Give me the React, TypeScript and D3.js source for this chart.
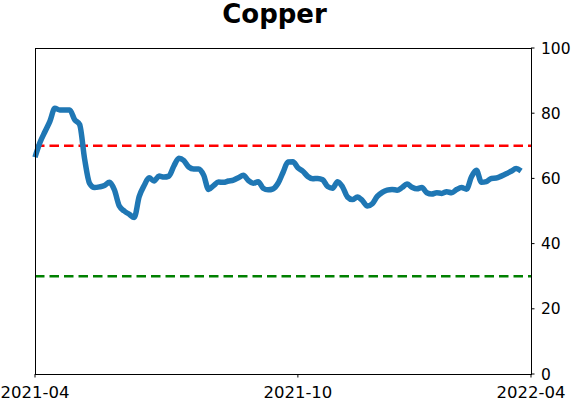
import React from "react";
import * as d3 from "d3";

const title = "Copper";
const values: number[] = [
  66.5, 71, 74.3, 77.5, 81.5, 81, 81, 81, 78, 76.5,
  66, 58.5, 57.2, 57.4, 57.8, 58.8, 56.5, 51.5, 50, 49,
  48, 54.4, 57.8, 60.2, 59.2, 60.7, 60.4, 60.7, 63.8, 66.2,
  65.5, 63.5, 62.9, 62.9, 61, 56.6, 57.8, 58.9, 58.8, 59.2,
  59.5, 60.2, 61, 59.4, 58.5, 59, 57, 56.5, 56.8, 58.5,
  61.8, 65, 65.1, 63.3, 62.2, 60.6, 59.9, 60, 59.6, 57.5,
  57, 59, 57.4, 54.3, 53.5, 54.3, 53.2, 51.5, 52.2, 54.5,
  55.7, 56.4, 56.6, 56.4, 57.2, 58.3, 57.3, 56.8, 57.2, 55.6,
  55.2, 55.6, 55.4, 55.9, 55.6, 56.6, 57.2, 56.7, 60.5, 62.5,
  58.8, 59, 60, 60.1, 60.7, 61.4, 62.2, 63, 62.3,
];
const xTickIndex = [0, 53, 100];
const xTickLabels = ["2021-04", "2021-10", "2022-04"];
const yTicks = [0, 20, 40, 60, 80, 100];
const upperLevel = 70;
const lowerLevel = 30;

const W = 571;
const H = 402;
const left = 35;
const right = 531;
const top = 48;
const bottom = 374;
const font = "'DejaVu Sans', sans-serif";

export default function App() {
  const x = d3.scaleLinear().domain([0, 100]).range([left, right]);
  const y = d3.scaleLinear().domain([0, 100]).range([bottom, top]);
  const line = d3
    .line<number>()
    .x((_, i) => x(i))
    .y((d) => y(d))
    .curve(d3.curveMonotoneX);

  return (
    <svg
      width={W}
      height={H}
      style={{ position: "absolute", left: 0, top: 0, background: "#fff" }}
      fontFamily={font}
    >
      <rect x={0} y={0} width={W} height={H} fill="#fff" />
      <text x={274.5} y={23} textAnchor="middle" fontSize={26} fontWeight="bold" fill="#000">
        {title}
      </text>
      <line x1={left} x2={right} y1={y(upperLevel)} y2={y(upperLevel)} stroke="#ff0000" strokeWidth={2.5} strokeDasharray="9.5,5" />
      <line x1={left} x2={right} y1={y(lowerLevel)} y2={y(lowerLevel)} stroke="#008000" strokeWidth={2.5} strokeDasharray="9.5,5" />
      <path d={line(values) || ""} fill="none" stroke="#1f77b4" strokeWidth={5.5} strokeLinejoin="round" strokeLinecap="butt" />
      <rect x={left} y={top} width={right - left} height={bottom - top} fill="none" stroke="#000" strokeWidth={1} shapeRendering="crispEdges" />
      {yTicks.map((t) => (
        <g key={t}>
          <line x1={right} x2={right + 3.5} y1={y(t)} y2={y(t)} stroke="#000" strokeWidth={1} />
          <text x={right + 10} y={y(t)} dy="0.36em" fontSize={15.5} fill="#000">
            {t}
          </text>
        </g>
      ))}
      {xTickIndex.map((t, i) => (
        <g key={t}>
          <line x1={x(t)} x2={x(t)} y1={bottom} y2={bottom + 3.5} stroke="#000" strokeWidth={1} />
          <text x={x(t)} y={397.5} textAnchor="middle" fontSize={16.5} fill="#000">
            {xTickLabels[i]}
          </text>
        </g>
      ))}
    </svg>
  );
}
